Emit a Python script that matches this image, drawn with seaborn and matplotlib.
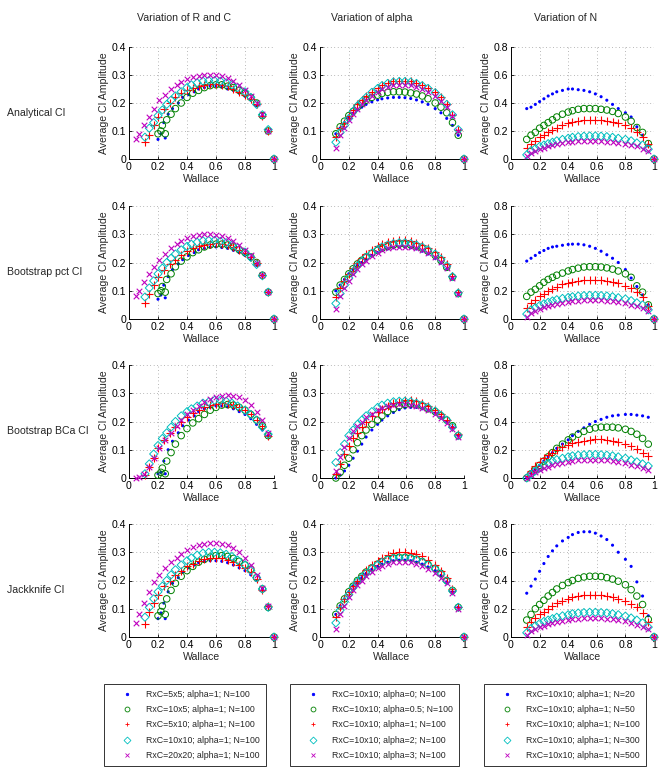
import numpy as np
import matplotlib
matplotlib.use("Agg")
import matplotlib.pyplot as plt
import seaborn as sns
from matplotlib.lines import Line2D
from matplotlib.ticker import FuncFormatter

sns.set_theme(style="white")
plt.rcParams["font.family"] = ["Liberation Sans", "DejaVu Sans"]
nan = np.nan

# ---- Wallace values (x) for each R x C setting -------------------------
x_5x5 = [0.20, 0.22, 0.25, 0.24, 0.27, 0.30, 0.34, 0.37, 0.41, 0.45, 0.48, 0.52, 0.56, 0.60, 0.64, 0.68, 0.72, 0.76, 0.80, 0.84, 0.88, 0.92, 0.96, 1.00]
x_10x5 = [0.20, 0.22, 0.25, 0.23, 0.26, 0.29, 0.32, 0.36, 0.40, 0.44, 0.48, 0.52, 0.56, 0.60, 0.64, 0.68, 0.72, 0.76, 0.80, 0.84, 0.88, 0.92, 0.96, 1.00]
x_5x10 = [0.11, 0.14, 0.17, 0.20, 0.24, 0.28, 0.32, 0.36, 0.40, 0.44, 0.48, 0.52, 0.56, 0.60, 0.64, 0.68, 0.72, 0.76, 0.80, 0.84, 0.88, 0.92, 0.96, 1.00]
x_10x10 = [0.11, 0.14, 0.17, 0.20, 0.23, 0.26, 0.29, 0.32, 0.36, 0.40, 0.43, 0.47, 0.51, 0.55, 0.59, 0.63, 0.67, 0.71, 0.75, 0.80, 0.84, 0.88, 0.92, 0.96, 1.00]
x_20x20 = [0.05, 0.07, 0.10, 0.14, 0.17, 0.21, 0.25, 0.29, 0.33, 0.36, 0.40, 0.44, 0.48, 0.52, 0.56, 0.60, 0.64, 0.68, 0.72, 0.76, 0.80, 0.84, 0.88, 0.92, 0.96, 1.00]

# ---- Analytical CI -----------------------------------------------------
an_5x5 = [0.070, 0.090, 0.075, 0.130, 0.160, 0.180, 0.200, 0.220, 0.230, 0.240, 0.250, 0.255, 0.260, 0.260, 0.257, 0.250, 0.245, 0.235, 0.224, 0.210, 0.190, 0.155, 0.100, 0.0]
an_10x5 = [0.090, 0.100, 0.090, 0.120, 0.140, 0.160, 0.180, 0.200, 0.220, 0.235, 0.245, 0.255, 0.262, 0.265, 0.265, 0.260, 0.255, 0.245, 0.235, 0.220, 0.200, 0.155, 0.100, 0.0]
an_5x10 = [0.060, 0.085, 0.120, 0.150, 0.180, 0.200, 0.220, 0.235, 0.245, 0.255, 0.260, 0.265, 0.268, 0.268, 0.265, 0.260, 0.250, 0.240, 0.230, 0.215, 0.195, 0.155, 0.100, 0.0]
an_base = [0.078, 0.110, 0.130, 0.155, 0.175, 0.195, 0.210, 0.225, 0.240, 0.255, 0.265, 0.272, 0.278, 0.280, 0.280, 0.278, 0.272, 0.265, 0.255, 0.240, 0.220, 0.195, 0.158, 0.105, 0.0]
an_20x20 = [0.070, 0.090, 0.120, 0.150, 0.180, 0.210, 0.230, 0.250, 0.265, 0.275, 0.285, 0.293, 0.298, 0.300, 0.300, 0.300, 0.297, 0.290, 0.280, 0.265, 0.245, 0.225, 0.200, 0.160, 0.100, 0.0]
an_a0 = [0.090, 0.110, 0.130, 0.150, 0.163, 0.175, 0.185, 0.195, 0.204, 0.211, 0.215, 0.218, 0.220, 0.220, 0.219, 0.216, 0.211, 0.204, 0.195, 0.180, 0.165, 0.145, 0.120, 0.085, 0.0]
an_a05 = [0.090, 0.115, 0.135, 0.155, 0.170, 0.185, 0.198, 0.210, 0.220, 0.228, 0.234, 0.238, 0.240, 0.240, 0.239, 0.236, 0.232, 0.225, 0.215, 0.200, 0.185, 0.165, 0.130, 0.085, 0.0]
an_a2 = [0.060, 0.095, 0.120, 0.145, 0.170, 0.190, 0.205, 0.220, 0.238, 0.252, 0.262, 0.270, 0.275, 0.277, 0.277, 0.275, 0.270, 0.262, 0.252, 0.237, 0.218, 0.195, 0.158, 0.105, 0.0]
an_a3 = [0.040, 0.085, 0.110, 0.140, 0.160, 0.180, 0.195, 0.210, 0.226, 0.240, 0.250, 0.258, 0.263, 0.265, 0.265, 0.263, 0.258, 0.250, 0.240, 0.225, 0.208, 0.185, 0.152, 0.100, 0.0]
an_n20 = [0.360, 0.370, 0.390, 0.410, 0.430, 0.450, 0.465, 0.480, 0.490, 0.500, 0.500, 0.495, 0.490, 0.480, 0.465, 0.445, 0.420, 0.390, 0.360, 0.330, 0.300, 0.230, 0.170, 0.100, 0.0]
an_n50 = [0.140, 0.170, 0.190, 0.220, 0.240, 0.260, 0.280, 0.300, 0.320, 0.335, 0.345, 0.355, 0.360, 0.360, 0.360, 0.355, 0.350, 0.340, 0.325, 0.300, 0.270, 0.225, 0.190, 0.110, 0.0]
an_n300 = [0.030, 0.060, 0.075, 0.090, 0.100, 0.110, 0.120, 0.130, 0.140, 0.148, 0.155, 0.160, 0.163, 0.165, 0.165, 0.163, 0.160, 0.155, 0.148, 0.140, 0.130, 0.115, 0.100, 0.070, 0.0]
an_n500 = [0.020, 0.045, 0.060, 0.070, 0.080, 0.090, 0.100, 0.105, 0.113, 0.120, 0.125, 0.128, 0.130, 0.130, 0.130, 0.128, 0.125, 0.120, 0.115, 0.108, 0.100, 0.090, 0.075, 0.055, 0.0]

# ---- Bootstrap pct CI --------------------------------------------------
pct_5x5 = [0.070, 0.085, 0.075, 0.120, 0.150, 0.175, 0.195, 0.210, 0.225, 0.235, 0.245, 0.250, 0.255, 0.255, 0.253, 0.250, 0.243, 0.235, 0.225, 0.210, 0.190, 0.155, 0.095, 0.0]
pct_10x5 = [0.090, 0.100, 0.095, 0.115, 0.140, 0.160, 0.185, 0.205, 0.220, 0.235, 0.245, 0.255, 0.262, 0.265, 0.265, 0.262, 0.255, 0.245, 0.235, 0.220, 0.200, 0.155, 0.095, 0.0]
pct_5x10 = [0.055, 0.090, 0.120, 0.150, 0.175, 0.195, 0.210, 0.225, 0.240, 0.250, 0.258, 0.263, 0.267, 0.268, 0.266, 0.262, 0.255, 0.245, 0.232, 0.218, 0.198, 0.155, 0.095, 0.0]
pct_base = [0.078, 0.110, 0.135, 0.160, 0.180, 0.200, 0.215, 0.230, 0.245, 0.257, 0.265, 0.272, 0.277, 0.278, 0.278, 0.275, 0.270, 0.262, 0.252, 0.237, 0.218, 0.193, 0.153, 0.095, 0.0]
pct_20x20 = [0.080, 0.100, 0.130, 0.160, 0.185, 0.210, 0.230, 0.250, 0.265, 0.277, 0.287, 0.294, 0.298, 0.300, 0.300, 0.298, 0.293, 0.287, 0.277, 0.263, 0.245, 0.225, 0.200, 0.155, 0.095, 0.0]
pct_a0 = [0.100, 0.120, 0.140, 0.160, 0.175, 0.190, 0.200, 0.212, 0.225, 0.235, 0.242, 0.248, 0.252, 0.255, 0.255, 0.252, 0.248, 0.240, 0.230, 0.215, 0.198, 0.175, 0.145, 0.090, 0.0]
pct_a05 = [0.095, 0.120, 0.140, 0.160, 0.178, 0.195, 0.208, 0.220, 0.232, 0.243, 0.250, 0.257, 0.262, 0.265, 0.265, 0.262, 0.257, 0.250, 0.240, 0.225, 0.207, 0.183, 0.148, 0.090, 0.0]
pct_a2 = [0.055, 0.090, 0.120, 0.145, 0.168, 0.188, 0.203, 0.218, 0.233, 0.246, 0.255, 0.262, 0.267, 0.270, 0.270, 0.267, 0.262, 0.255, 0.245, 0.230, 0.212, 0.188, 0.150, 0.092, 0.0]
pct_a3 = [0.035, 0.080, 0.110, 0.135, 0.158, 0.178, 0.193, 0.207, 0.222, 0.235, 0.243, 0.250, 0.254, 0.256, 0.256, 0.254, 0.250, 0.243, 0.234, 0.220, 0.203, 0.180, 0.145, 0.090, 0.0]
pct_n20 = [0.410, 0.430, 0.450, 0.470, 0.485, 0.500, 0.510, 0.515, 0.522, 0.528, 0.530, 0.530, 0.525, 0.515, 0.500, 0.480, 0.455, 0.430, 0.400, 0.350, 0.290, 0.230, 0.170, 0.100, 0.0]
pct_n50 = [0.160, 0.190, 0.210, 0.235, 0.260, 0.280, 0.295, 0.310, 0.325, 0.340, 0.350, 0.360, 0.368, 0.370, 0.370, 0.368, 0.362, 0.353, 0.340, 0.320, 0.295, 0.235, 0.190, 0.100, 0.0]
pct_n300 = [0.035, 0.065, 0.080, 0.095, 0.108, 0.118, 0.128, 0.137, 0.146, 0.153, 0.158, 0.163, 0.166, 0.168, 0.168, 0.166, 0.163, 0.158, 0.151, 0.142, 0.130, 0.115, 0.100, 0.065, 0.0]
pct_n500 = [0.015, 0.045, 0.060, 0.072, 0.083, 0.092, 0.100, 0.107, 0.114, 0.120, 0.124, 0.128, 0.131, 0.132, 0.132, 0.131, 0.128, 0.124, 0.118, 0.110, 0.100, 0.090, 0.075, 0.055, 0.0]

# ---- Bootstrap BCa CI (no value at Wallace = 1) ------------------------
bca_5x5 = [0.015, 0.020, 0.015, 0.060, 0.100, 0.130, 0.160, 0.185, 0.205, 0.220, 0.235, 0.245, 0.250, 0.255, 0.255, 0.252, 0.245, 0.235, 0.225, 0.210, 0.190, 0.170, 0.150, nan]
bca_10x5 = [0.010, 0.020, 0.015, 0.035, 0.060, 0.090, 0.120, 0.150, 0.175, 0.195, 0.210, 0.225, 0.240, 0.250, 0.258, 0.260, 0.258, 0.250, 0.240, 0.225, 0.205, 0.185, 0.150, nan]
bca_5x10 = [0.010, 0.040, 0.070, 0.105, 0.135, 0.160, 0.180, 0.200, 0.215, 0.230, 0.240, 0.250, 0.258, 0.262, 0.265, 0.262, 0.258, 0.250, 0.240, 0.225, 0.205, 0.185, 0.150, nan]
bca_base = [0.015, 0.050, 0.085, 0.115, 0.140, 0.160, 0.180, 0.200, 0.220, 0.235, 0.245, 0.255, 0.265, 0.270, 0.275, 0.275, 0.272, 0.265, 0.255, 0.240, 0.225, 0.205, 0.180, 0.155, nan]
bca_20x20 = [0.0, 0.005, 0.015, 0.040, 0.070, 0.105, 0.135, 0.160, 0.185, 0.205, 0.225, 0.240, 0.255, 0.268, 0.278, 0.285, 0.290, 0.293, 0.290, 0.285, 0.275, 0.260, 0.235, 0.205, 0.160, nan]
bca_a0 = [0.0, 0.010, 0.025, 0.045, 0.070, 0.095, 0.120, 0.145, 0.170, 0.190, 0.205, 0.220, 0.232, 0.242, 0.248, 0.250, 0.250, 0.245, 0.240, 0.230, 0.215, 0.200, 0.180, 0.150, nan]
bca_a05 = [0.0, 0.020, 0.045, 0.070, 0.100, 0.125, 0.150, 0.170, 0.190, 0.205, 0.220, 0.235, 0.245, 0.255, 0.260, 0.262, 0.260, 0.255, 0.245, 0.235, 0.220, 0.205, 0.185, 0.150, nan]
bca_a2 = [0.055, 0.090, 0.120, 0.150, 0.170, 0.190, 0.205, 0.220, 0.235, 0.250, 0.258, 0.265, 0.270, 0.272, 0.272, 0.270, 0.265, 0.258, 0.250, 0.237, 0.222, 0.205, 0.180, 0.150, nan]
bca_a3 = [0.025, 0.075, 0.110, 0.140, 0.165, 0.185, 0.200, 0.215, 0.228, 0.240, 0.248, 0.255, 0.260, 0.262, 0.262, 0.260, 0.255, 0.248, 0.240, 0.228, 0.213, 0.195, 0.175, 0.145, nan]
bca_n20 = [0.0, 0.030, 0.060, 0.090, 0.120, 0.150, 0.180, 0.210, 0.240, 0.270, 0.300, 0.330, 0.355, 0.380, 0.400, 0.415, 0.430, 0.440, 0.445, 0.450, 0.450, 0.445, 0.440, 0.430, nan]
bca_n50 = [0.0, 0.030, 0.060, 0.090, 0.120, 0.150, 0.180, 0.210, 0.240, 0.270, 0.290, 0.310, 0.330, 0.345, 0.355, 0.360, 0.360, 0.360, 0.355, 0.345, 0.330, 0.310, 0.280, 0.240, nan]
bca_n300 = [0.0, 0.025, 0.050, 0.070, 0.090, 0.105, 0.120, 0.130, 0.140, 0.150, 0.157, 0.162, 0.165, 0.167, 0.167, 0.165, 0.162, 0.157, 0.150, 0.140, 0.128, 0.115, 0.100, 0.085, nan]
bca_n500 = [0.0, 0.020, 0.040, 0.055, 0.070, 0.080, 0.090, 0.100, 0.108, 0.115, 0.120, 0.125, 0.128, 0.130, 0.130, 0.128, 0.125, 0.120, 0.113, 0.105, 0.095, 0.085, 0.072, 0.060, nan]

# ---- Jackknife CI ------------------------------------------------------
jk_5x5 = [0.065, 0.085, 0.065, 0.120, 0.160, 0.190, 0.210, 0.230, 0.245, 0.255, 0.263, 0.268, 0.270, 0.270, 0.268, 0.263, 0.255, 0.245, 0.235, 0.220, 0.200, 0.170, 0.110, 0.0]
jk_10x5 = [0.075, 0.090, 0.080, 0.110, 0.135, 0.165, 0.190, 0.215, 0.235, 0.250, 0.265, 0.275, 0.283, 0.288, 0.288, 0.285, 0.278, 0.268, 0.255, 0.240, 0.210, 0.170, 0.105, 0.0]
jk_5x10 = [0.045, 0.090, 0.120, 0.150, 0.180, 0.200, 0.220, 0.235, 0.250, 0.260, 0.268, 0.275, 0.280, 0.280, 0.278, 0.272, 0.265, 0.255, 0.245, 0.230, 0.205, 0.165, 0.110, 0.0]
jk_base = [0.070, 0.105, 0.135, 0.160, 0.180, 0.200, 0.220, 0.238, 0.255, 0.270, 0.280, 0.290, 0.297, 0.300, 0.300, 0.298, 0.293, 0.285, 0.272, 0.255, 0.235, 0.210, 0.170, 0.105, 0.0]
jk_20x20 = [0.050, 0.080, 0.120, 0.160, 0.195, 0.220, 0.245, 0.265, 0.280, 0.295, 0.308, 0.318, 0.325, 0.330, 0.333, 0.333, 0.330, 0.325, 0.315, 0.300, 0.280, 0.255, 0.220, 0.175, 0.110, 0.0]
jk_a0 = [0.080, 0.110, 0.135, 0.160, 0.180, 0.195, 0.210, 0.225, 0.240, 0.250, 0.258, 0.265, 0.270, 0.272, 0.272, 0.270, 0.265, 0.258, 0.248, 0.235, 0.218, 0.195, 0.160, 0.105, 0.0]
jk_a05 = [0.080, 0.110, 0.135, 0.160, 0.180, 0.200, 0.215, 0.230, 0.245, 0.258, 0.267, 0.275, 0.280, 0.282, 0.282, 0.280, 0.275, 0.267, 0.257, 0.243, 0.225, 0.200, 0.165, 0.105, 0.0]
jk_a2 = [0.050, 0.095, 0.125, 0.150, 0.175, 0.195, 0.210, 0.225, 0.242, 0.255, 0.265, 0.273, 0.278, 0.280, 0.280, 0.278, 0.273, 0.265, 0.255, 0.240, 0.222, 0.198, 0.163, 0.105, 0.0]
jk_a3 = [0.030, 0.080, 0.110, 0.140, 0.165, 0.185, 0.200, 0.215, 0.230, 0.243, 0.252, 0.260, 0.265, 0.267, 0.267, 0.265, 0.260, 0.252, 0.242, 0.228, 0.210, 0.190, 0.157, 0.100, 0.0]
jk_n20 = [0.310, 0.360, 0.410, 0.465, 0.520, 0.570, 0.610, 0.645, 0.680, 0.705, 0.725, 0.740, 0.745, 0.745, 0.735, 0.715, 0.690, 0.650, 0.600, 0.550, 0.500, 0.390, 0.290, 0.150, 0.0]
jk_n50 = [0.120, 0.160, 0.200, 0.230, 0.260, 0.290, 0.315, 0.340, 0.365, 0.385, 0.400, 0.415, 0.425, 0.430, 0.430, 0.428, 0.420, 0.410, 0.395, 0.370, 0.335, 0.290, 0.230, 0.125, 0.0]
jk_n300 = [0.030, 0.060, 0.080, 0.095, 0.110, 0.120, 0.130, 0.140, 0.150, 0.158, 0.165, 0.170, 0.173, 0.175, 0.175, 0.173, 0.170, 0.165, 0.158, 0.148, 0.135, 0.120, 0.100, 0.070, 0.0]
jk_n500 = [0.015, 0.040, 0.055, 0.068, 0.080, 0.090, 0.100, 0.107, 0.115, 0.120, 0.125, 0.130, 0.133, 0.135, 0.135, 0.133, 0.130, 0.125, 0.118, 0.110, 0.100, 0.088, 0.072, 0.055, 0.0]

row_labels = ["Analytical CI", "Bootstrap pct CI", "Bootstrap BCa CI", "Jackknife CI"]
col_titles = ["Variation of R and C", "Variation of alpha", "Variation of N"]
legend_rc = ["RxC=5x5; alpha=1; N=100", "RxC=10x5; alpha=1; N=100", "RxC=5x10; alpha=1; N=100",
             "RxC=10x10; alpha=1; N=100", "RxC=20x20; alpha=1; N=100"]
legend_alpha = ["RxC=10x10; alpha=0; N=100", "RxC=10x10; alpha=0.5; N=100", "RxC=10x10; alpha=1; N=100",
                "RxC=10x10; alpha=2; N=100", "RxC=10x10; alpha=3; N=100"]
legend_n = ["RxC=10x10; alpha=1; N=20", "RxC=10x10; alpha=1; N=50", "RxC=10x10; alpha=1; N=100",
            "RxC=10x10; alpha=1; N=300", "RxC=10x10; alpha=1; N=500"]

rows = [
    ([an_5x5, an_10x5, an_5x10, an_base, an_20x20], [an_a0, an_a05, an_base, an_a2, an_a3], [an_n20, an_n50, an_base, an_n300, an_n500]),
    ([pct_5x5, pct_10x5, pct_5x10, pct_base, pct_20x20], [pct_a0, pct_a05, pct_base, pct_a2, pct_a3], [pct_n20, pct_n50, pct_base, pct_n300, pct_n500]),
    ([bca_5x5, bca_10x5, bca_5x10, bca_base, bca_20x20], [bca_a0, bca_a05, bca_base, bca_a2, bca_a3], [bca_n20, bca_n50, bca_base, bca_n300, bca_n500]),
    ([jk_5x5, jk_10x5, jk_5x10, jk_base, jk_20x20], [jk_a0, jk_a05, jk_base, jk_a2, jk_a3], [jk_n20, jk_n50, jk_base, jk_n300, jk_n500]),
]
x_rc = [x_5x5, x_10x5, x_5x10, x_10x10, x_20x20]
x_same = [x_10x10] * 5

# matlab-ish styles: . o + d x
colors = ["#0000ff", "#008000", "#ff0000", "#00bfbf", "#bf00bf"]
markers = ["o", "o", "+", "D", "x"]
msize = [5, 22, 26, 17, 16]
open_face = [False, True, False, True, False]

W, H = 661, 770
fig = plt.figure(figsize=(W / 100, H / 100), dpi=100)
FS = 7.6

col_px = [(129, 274), (320, 464), (511, 654)]
row_px = [(47, 159), (206, 319), (365, 478), (524, 637)]
col_ymax = [0.4, 0.4, 0.8]


def scatter(ax, xs, ys, i):
    xs = np.asarray(xs, dtype=float)
    ys = np.asarray(ys, dtype=float)
    if open_face[i]:
        sns.scatterplot(x=xs, y=ys, ax=ax, marker=markers[i], s=msize[i], facecolor="none",
                        edgecolor=colors[i], linewidth=0.7, clip_on=False, zorder=3)
    elif i == 0:
        sns.scatterplot(x=xs, y=ys, ax=ax, marker="o", s=msize[i], color=colors[i],
                        edgecolor="none", linewidth=0, clip_on=False, zorder=3)
    else:
        sns.scatterplot(x=xs, y=ys, ax=ax, marker=markers[i], s=msize[i], color=colors[i],
                        linewidth=0.8, clip_on=False, zorder=3)


fmt = FuncFormatter(lambda v, _: f"{v:g}")
for r, panels in enumerate(rows):
    top, bot = row_px[r]
    for c, series in enumerate(panels):
        left, right = col_px[c]
        ax = fig.add_axes([left / W, 1 - bot / H, (right - left) / W, (bot - top) / H])
        xs_list = x_rc if c == 0 else x_same
        for i in range(5):
            scatter(ax, xs_list[i], series[i], i)
        ymax = col_ymax[c]
        ax.set_xlim(0, 1)
        ax.set_ylim(0, ymax)
        ax.set_xticks(np.linspace(0, 1, 6))
        ax.set_yticks(np.linspace(0, ymax, 5))
        ax.xaxis.set_major_formatter(fmt)
        ax.yaxis.set_major_formatter(fmt)
        ax.grid(True, linestyle=(0, (1, 4)), color="#777777", linewidth=0.5)
        ax.set_axisbelow(True)
        for s in ("top", "right"):
            ax.spines[s].set_visible(False)
        for s in ("left", "bottom"):
            ax.spines[s].set_color("black")
            ax.spines[s].set_linewidth(0.7)
        ax.tick_params(direction="in", length=2.5, width=0.6, labelsize=FS, pad=2,
                       left=True, bottom=True, colors="black")
        ax.set_xlabel("Wallace", fontsize=FS, labelpad=1.5)
        ax.set_ylabel("Average CI Amplitude", fontsize=FS, labelpad=2)

# column headers and row labels
for c, t in enumerate(col_titles):
    fig.text([184, 372, 566][c] / W, 1 - 18 / H, t, ha="center", va="center", fontsize=FS)
for r, t in enumerate(row_labels):
    fig.text(7 / W, 1 - [113, 272, 431, 590][r] / H, t, ha="left", va="center", fontsize=FS)

# legends below each column
for c, labels in enumerate([legend_rc, legend_alpha, legend_n]):
    handles = []
    for i in range(5):
        handles.append(Line2D([], [], linestyle="", marker="." if i == 0 else markers[i],
                              markersize=3.5, markeredgewidth=0.6,
                              color=colors[i], markerfacecolor="none" if open_face[i] else colors[i]))
    leg = fig.legend(handles, labels, loc="upper left",
                     bbox_to_anchor=([104, 290, 484][c] / W, 1 - 684 / H),
                     fontsize=6.3, frameon=True, fancybox=False, borderaxespad=0,
                     borderpad=0.65, handlelength=4.0, handletextpad=0.2, labelspacing=0.72)
    leg.get_frame().set_edgecolor("black")
    leg.get_frame().set_linewidth(0.7)

fig.savefig("out.png", dpi=100)
